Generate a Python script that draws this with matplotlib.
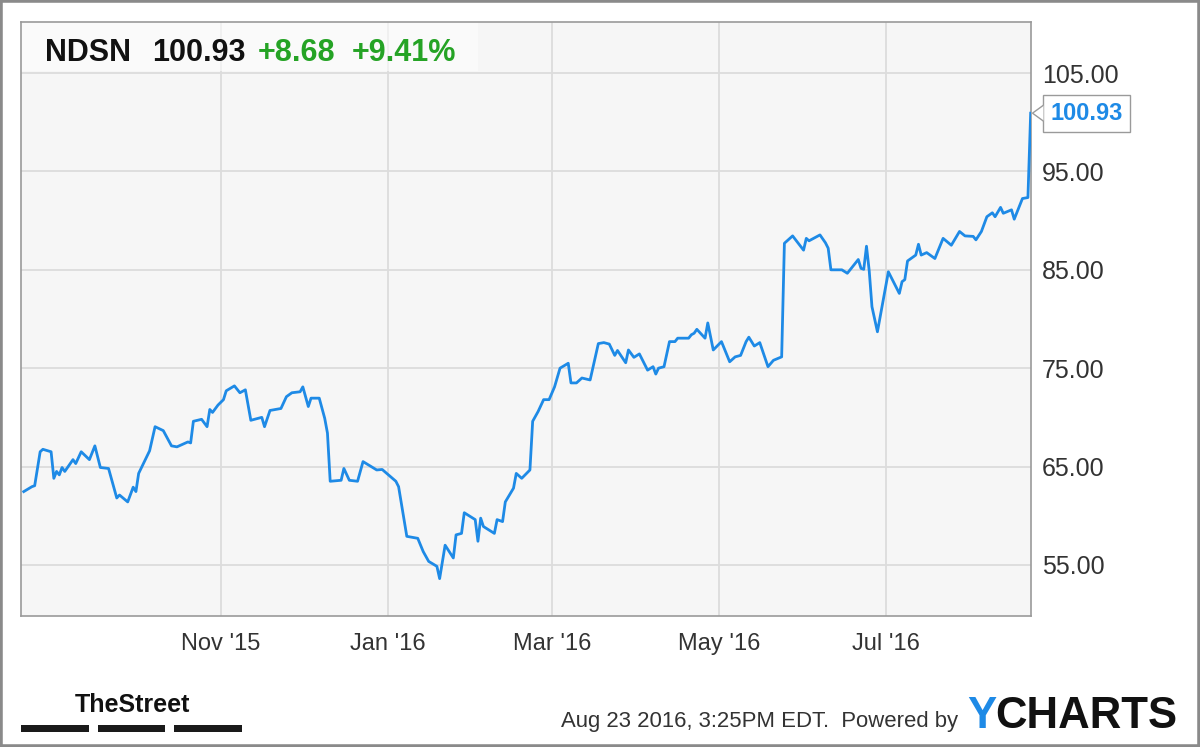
import matplotlib
matplotlib.use("Agg")
import matplotlib.pyplot as plt
import matplotlib.dates as mdates
import matplotlib.transforms as mtransforms
from matplotlib.patches import Rectangle, Polygon
import pandas as pd

# --- data (NDSN daily close) ---
ticker = "NDSN"
last_price = 100.93
change = "+8.68"
change_pct = "+9.41%"
stamp = "Aug 23 2016, 3:25PM EDT.  Powered by"

dates = [
    "2015-08-21", "2015-08-24", "2015-08-25", "2015-08-27", "2015-08-28", "2015-08-31",
    "2015-09-01", "2015-09-02", "2015-09-03", "2015-09-04", "2015-09-05", "2015-09-08",
    "2015-09-09", "2015-09-11", "2015-09-14", "2015-09-16", "2015-09-18", "2015-09-21",
    "2015-09-24", "2015-09-25", "2015-09-28", "2015-09-30", "2015-10-01", "2015-10-02",
    "2015-10-06", "2015-10-08", "2015-10-11", "2015-10-14", "2015-10-16", "2015-10-20",
    "2015-10-21", "2015-10-22", "2015-10-25", "2015-10-27", "2015-10-28", "2015-10-29",
    "2015-10-31", "2015-11-02", "2015-11-03", "2015-11-06", "2015-11-08", "2015-11-10",
    "2015-11-12", "2015-11-16", "2015-11-17", "2015-11-19", "2015-11-23", "2015-11-25",
    "2015-11-27", "2015-11-30", "2015-12-01", "2015-12-03", "2015-12-04", "2015-12-07",
    "2015-12-09", "2015-12-10", "2015-12-11", "2015-12-15", "2015-12-16", "2015-12-18",
    "2015-12-21", "2015-12-23", "2015-12-28", "2015-12-30", "2016-01-04", "2016-01-05",
    "2016-01-08", "2016-01-12", "2016-01-14", "2016-01-16", "2016-01-19", "2016-01-20",
    "2016-01-22", "2016-01-25", "2016-01-26", "2016-01-28", "2016-01-29", "2016-02-02",
    "2016-02-03", "2016-02-04", "2016-02-05", "2016-02-09", "2016-02-10", "2016-02-12",
    "2016-02-13", "2016-02-16", "2016-02-17", "2016-02-19", "2016-02-22", "2016-02-23",
    "2016-02-24", "2016-02-25", "2016-02-27", "2016-02-29", "2016-03-02", "2016-03-04",
    "2016-03-07", "2016-03-08", "2016-03-10", "2016-03-12", "2016-03-15", "2016-03-18",
    "2016-03-20", "2016-03-22", "2016-03-24", "2016-03-25", "2016-03-28", "2016-03-29",
    "2016-03-31", "2016-04-02", "2016-04-05", "2016-04-07", "2016-04-08", "2016-04-09",
    "2016-04-11", "2016-04-13", "2016-04-15", "2016-04-16", "2016-04-20", "2016-04-21",
    "2016-04-22", "2016-04-23", "2016-04-26", "2016-04-27", "2016-04-29", "2016-05-02",
    "2016-05-05", "2016-05-07", "2016-05-09", "2016-05-11", "2016-05-12", "2016-05-14",
    "2016-05-16", "2016-05-19", "2016-05-21", "2016-05-24", "2016-05-25", "2016-05-28",
    "2016-06-01", "2016-06-02", "2016-06-03", "2016-06-07", "2016-06-09", "2016-06-10",
    "2016-06-11", "2016-06-15", "2016-06-17", "2016-06-21", "2016-06-22", "2016-06-23",
    "2016-06-24", "2016-06-25", "2016-06-26", "2016-06-28", "2016-07-02", "2016-07-06",
    "2016-07-07", "2016-07-08", "2016-07-09", "2016-07-12", "2016-07-13", "2016-07-14",
    "2016-07-16", "2016-07-19", "2016-07-22", "2016-07-25", "2016-07-28", "2016-07-30",
    "2016-08-02", "2016-08-03", "2016-08-05", "2016-08-07", "2016-08-09", "2016-08-10",
    "2016-08-12", "2016-08-13", "2016-08-16", "2016-08-17", "2016-08-20", "2016-08-22",
    "2016-08-23",
]
prices = [
    62.45, 62.95, 63.05, 66.5, 66.75, 66.5,
    63.8, 64.5, 64.15, 64.9, 64.5, 65.7,
    65.3, 66.5, 65.7, 67.1, 64.9, 64.8,
    61.8, 62.1, 61.4, 62.9, 62.45, 64.3,
    66.6, 69.05, 68.65, 67.1, 67.0, 67.5,
    67.4, 69.6, 69.8, 69.05, 70.8, 70.5,
    71.25, 71.8, 72.7, 73.2, 72.5, 72.8,
    69.7, 70.0, 69.05, 70.7, 70.9, 72.1,
    72.5, 72.6, 73.1, 71.1, 71.95, 71.95,
    69.9, 68.4, 63.5, 63.6, 64.8, 63.6,
    63.5, 65.5, 64.65, 64.7, 63.5, 62.95,
    57.9, 57.7, 56.35, 55.35, 54.85, 53.6,
    57.0, 55.7, 58.05, 58.2, 60.3, 59.6,
    57.4, 59.75, 58.9, 58.2, 59.6, 59.4,
    61.4, 62.8, 64.3, 63.8, 64.65, 69.6,
    70.1, 70.6, 71.8, 71.8, 73.1, 75.0,
    75.5, 73.5, 73.5, 74.0, 73.8, 77.5,
    77.6, 77.45, 76.3, 76.8, 75.55, 76.85,
    76.1, 76.45, 74.8, 75.15, 74.4, 75.0,
    75.15, 77.7, 77.7, 78.05, 78.05, 78.4,
    78.55, 78.95, 78.05, 79.6, 76.85, 77.7,
    75.65, 76.15, 76.3, 77.7, 78.15, 77.25,
    77.6, 75.15, 75.8, 76.15, 87.7, 88.45,
    87.0, 88.2, 87.95, 88.55, 87.75, 87.2,
    85.0, 85.0, 84.65, 86.05, 85.15, 85.05,
    87.4, 84.9, 81.25, 78.7, 84.8, 82.6,
    83.8, 84.0, 85.9, 86.5, 87.6, 86.5,
    86.75, 86.15, 88.2, 87.5, 88.9, 88.45,
    88.4, 88.05, 88.9, 90.4, 90.8, 90.4,
    91.35, 90.75, 91.1, 90.15, 92.25, 92.35,
    100.93,
]
y_ticks = [55, 65, 75, 85, 95, 105]

# --- colours ---
blue = "#1e8ae6"
green = "#25a325"
grid_c = "#dcdcdc"
frame_c = "#9a9a9a"
font = "Liberation Sans"

x = pd.to_datetime(dates)

fig = plt.figure(figsize=(12, 7.47), dpi=100)
ax = fig.add_axes([21 / 1200, 131 / 747, 1010 / 1200, 594 / 747])
ax.set_facecolor("#f6f6f6")

ax.plot(x, prices, color=blue, lw=2.0, zorder=4, solid_joinstyle="round")

ax.set_xlim(pd.Timestamp("2015-08-20"), pd.Timestamp("2016-08-23 03:00"))
ax.set_ylim(49.8, 110.2)

ax.xaxis.set_major_locator(mdates.MonthLocator(bymonth=[11, 1, 3, 5, 7]))
ax.xaxis.set_major_formatter(mdates.DateFormatter("%b '%y"))
ax.set_yticks(y_ticks)
ax.set_yticklabels([f"{v:.2f}" for v in y_ticks])
ax.yaxis.tick_right()
ax.tick_params(axis="both", length=0, colors="#333333")
ax.tick_params(axis="y", pad=8, labelsize=18)
ax.tick_params(axis="x", pad=12, labelsize=17)
for lab in ax.get_xticklabels() + ax.get_yticklabels():
    lab.set_family(font)

ax.grid(True, color=grid_c, lw=1.3, zorder=1)
for s in ax.spines.values():
    s.set_color(frame_c)
    s.set_linewidth(1.2)

# header band with quote
ax.add_patch(Rectangle((0, 0.9175), 0.4525, 0.0825, transform=ax.transAxes,
                       facecolor="white", alpha=0.55, edgecolor="none", zorder=2))
hdr_y = 1 - 61 / 747
fig.text(45 / 1200, hdr_y, ticker, fontsize=22, fontweight="bold", color="#111111",
         family=font, va="baseline")
fig.text(152 / 1200, hdr_y, f"{last_price:.2f}", fontsize=22, fontweight="bold",
         color="#111111", family=font, va="baseline")
fig.text(258 / 1200, hdr_y, change, fontsize=22, fontweight="bold", color=green,
         family=font, va="baseline")
fig.text(352 / 1200, hdr_y, change_pct, fontsize=22, fontweight="bold", color=green,
         family=font, va="baseline")

# last price callout on the right axis
blend = mtransforms.blended_transform_factory(ax.transAxes, ax.transData)
ax.annotate(f"{last_price:.2f}", xy=(1.0, prices[-1]), xycoords=blend,
            xytext=(14, 0), textcoords="offset points", ha="left", va="center",
            fontsize=17, fontweight="bold", color=blue, family=font,
            bbox=dict(boxstyle="square,pad=0.3", facecolor="white", edgecolor=frame_c, lw=1.0),
            zorder=5, annotation_clip=False)
fig.canvas.draw()
tip = blend.transform((1.0, prices[-1]))
notch = Polygon([(tip[0] + 12.5, tip[1] + 8), (tip[0] + 1.5, tip[1]), (tip[0] + 12.5, tip[1] - 8)],
                closed=False, facecolor="white", edgecolor=frame_c, lw=1.0, zorder=6,
                transform=mtransforms.IdentityTransform())
fig.add_artist(notch)

# footer: TheStreet logo
fig.text(75 / 1200, 1 - 712 / 747, "TheStreet", fontsize=18, fontweight="bold",
         family=font, color="#111111", va="baseline")
for x0, x1 in [(21, 89), (98, 165), (174, 242)]:
    fig.patches.append(Rectangle((x0 / 1200, 1 - 732 / 747), (x1 - x0) / 1200, 7 / 747,
                                 transform=fig.transFigure, facecolor="#1a1a1a",
                                 edgecolor="none"))

# footer: timestamp and YCharts mark
fig.text(958 / 1200, 1 - 727 / 747, stamp, fontsize=15.9, color="#333333",
         family=font, ha="right", va="baseline")
charts = fig.text(1177 / 1200, 1 - 728 / 747, "CHARTS", fontsize=31.5, fontweight="bold",
                  color="#111111", family=font, ha="right", va="baseline")
fig.canvas.draw()
c_left = charts.get_window_extent().x0
fig.text(c_left / 1200 + 0.001, 1 - 728 / 747, "Y", fontsize=31.5, fontweight="bold",
         color=blue, family=font, ha="right", va="baseline")

# outer frame
fig.patches.append(Rectangle((0, 0), 1, 1, transform=fig.transFigure, fill=False,
                             edgecolor="#8a8a8a", lw=4))

fig.savefig("out.png", dpi=100)
